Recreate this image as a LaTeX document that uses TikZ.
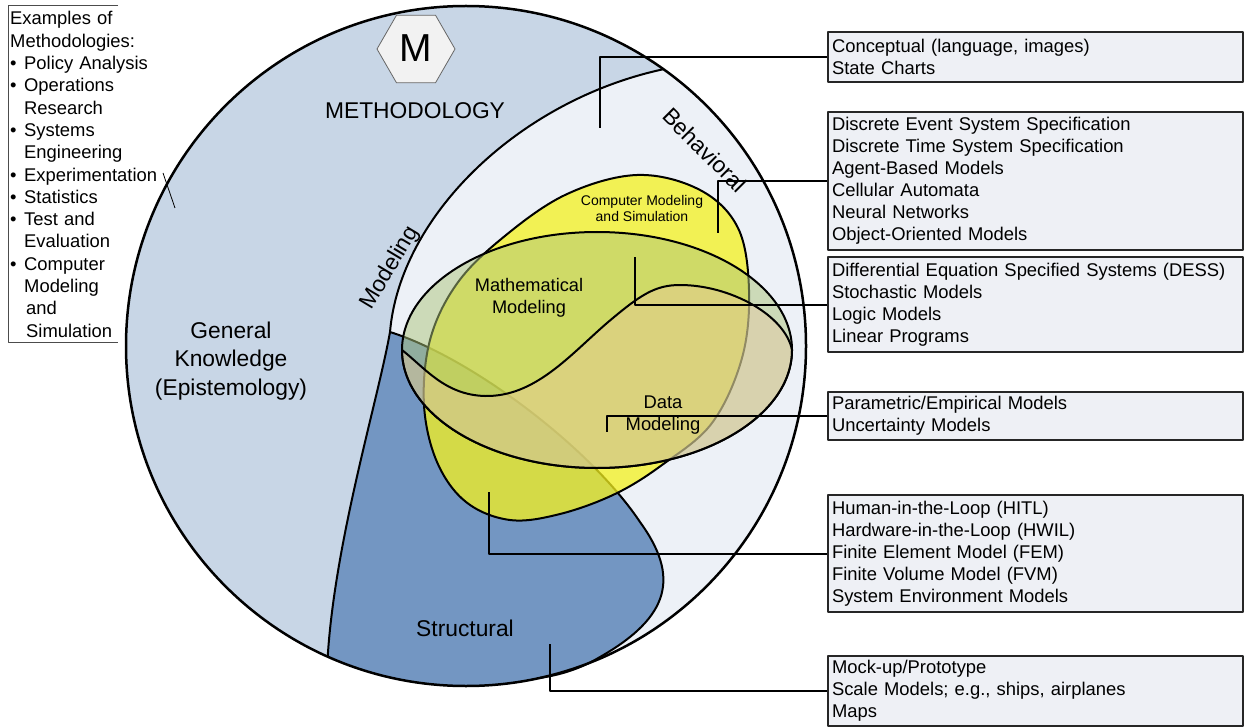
\documentclass[tikz,border=0pt]{standalone}
\usepackage{fontspec}
\setmainfont{Liberation Sans}
\usetikzlibrary{calc}
\definecolor{outerc}{RGB}{200,214,230}
\definecolor{lightc}{RGB}{237,241,247}
\definecolor{structc}{RGB}{115,150,194}
\definecolor{eggc}{RGB}{245,241,30}
\definecolor{ellc}{RGB}{173,197,123}
\definecolor{datac}{RGB}{235,200,160}
\definecolor{boxc}{RGB}{238,240,245}
\definecolor{hexc}{RGB}{242,242,242}
\newcommand{\mybul}{\makebox[14pt][l]{•}}
\newcommand{\myind}{\hspace*{14pt}}
\begin{document}
\begin{tikzpicture}[x=1pt,y=-1pt,line join=round,
  mbox/.style={draw=black!85,line width=2pt,fill=boxc,text width=407pt,inner xsep=4pt,inner ysep=0pt,align=left,anchor=west,font=\fontsize{18.4}{22}\selectfont},
  conn/.style={draw=black,line width=2pt},
  region/.style={draw=black,line width=2pt},
  biglabel/.style={font=\fontsize{22.8}{28.5}\selectfont,align=center,inner sep=0pt}]
\useasboundingbox (0,0) rectangle (1244,727);
\coordinate (O) at (466,346);
\coordinate (A) at ($(O)+(-54.5:340)$);
\coordinate (B) at (390,332);
\coordinate (C) at ($(O)+(114:340)$);
\coordinate (D) at ($(O)+(77.4:340)$);
% outer region
\fill[outerc] (O) circle[radius=340];
% modeling (light) region
\fill[lightc] (B) .. controls (400,215) and (520,100) .. (A)
  arc[start angle=-54.5,end angle=114,radius=340]
  .. controls (335,540) and (378,400) .. (B) -- cycle;
% structural region
\fill[structc] (B) .. controls (470,357) and (590,447) .. (640,522)
  .. controls (680,577) and (670,617) .. (600,657)
  .. controls (580,669) and (560,675) .. (D)
  arc[start angle=77.4,end angle=114,radius=340]
  .. controls (335,540) and (378,400) .. (B) -- cycle;
\draw[region] (C) .. controls (335,540) and (378,400) .. (B) .. controls (400,215) and (520,100) .. (A);
\draw[region] (B) .. controls (470,357) and (590,447) .. (640,522)
  .. controls (680,577) and (670,617) .. (600,657)
  .. controls (580,669) and (560,675) .. (D);
% computer modeling egg
\filldraw[fill=eggc,fill opacity=0.75,draw=black,line width=2pt]
  plot[smooth cycle,tension=0.6] coordinates {(637,175) (700,190) (738,228) (749,290) (742,358) (712,423) (662,465) (615,494) (560,514) (510,520) (466,502) (437,462) (424,405) (430,340) (456,285) (500,240) (565,195)};
% mathematical modeling ellipse
\filldraw[fill=ellc,fill opacity=0.5,draw=black,line width=2pt] (597,350) ellipse[x radius=195,y radius=118];
% data modeling shape
\filldraw[fill=datac,fill opacity=0.4,draw=black,line width=2pt]
  (402,350) .. controls (425,368) and (445,395) .. (485,396)
  .. controls (535,397) and (570,355) .. (607,323)
  .. controls (640,295) and (655,285) .. (680,285)
  .. controls (730,285) and (785,315) .. (792,350)
  arc[start angle=0,end angle=180,x radius=195,y radius=118] -- cycle;
% outer circle outline
\draw[line width=2.5pt] (O) circle[radius=340];
% hexagon
\coordinate (hc) at (416,49);
\filldraw[fill=hexc,draw=black!60,line width=0.8pt] ($(hc)+(-39,0)$) -- ++(19.5,-33.8) -- ++(39,0) -- ++(19.5,33.8) -- ++(-19.5,33.8) -- ++(-39,0) -- cycle;
\node[font=\fontsize{39}{39}\selectfont,inner sep=0pt] (hexm) at (416,48) {M};
% labels
\node[biglabel] (meth) at (415,111) {METHODOLOGY};
\node[biglabel] (gk) at (231,361) {General\\Knowledge\\(Epistemology)};
\node[biglabel] (struct) at (465,628) {Structural};
\node[biglabel,rotate=59] (modl) at (390,268) {Modeling};
\node[biglabel,rotate=-45] (behav) at (705,150) {Behavioral};
\node[font=\fontsize{14}{16}\selectfont,align=center,inner sep=0pt] (cms) at (642,208) {Computer Modeling\\and Simulation};
\node[font=\fontsize{18.2}{22}\selectfont,align=center,inner sep=0pt] (mm) at (529,298) {Mathematical\\Modeling};
\node[font=\fontsize{18.4}{22}\selectfont,align=center,inner sep=0pt] (dm) at (663,415) {Data\\Modeling};
% legend
\node[anchor=north west,inner xsep=2pt,inner ysep=5.4pt,align=left,text width=170pt,font=\fontsize{18.4}{22.3}\selectfont] (legend) at (8,6)
 {Examples of\\Methodologies:\\\mybul Policy Analysis\\\mybul Operations\\\myind Research\\\mybul Systems\\\myind Engineering\\\mybul Experimentation\\\mybul Statistics\\\mybul Test and\\\myind Evaluation\\\mybul Computer\\\myind Modeling\\\myind\hspace*{2pt}and\\\myind\hspace*{2pt}Simulation};
\draw[line width=1pt,draw=black!70] ($(legend.north west)+(110,0)$) -- (legend.north west) -- (legend.south west) -- ++(110,0);
\coordinate (lead1) at (163,173);
\coordinate (lead2) at (175,208);
\draw[line width=0.8pt] (lead1) -- (lead2);
% boxes
\node[mbox,minimum height=50pt] (b1) at (827,57) {Conceptual (language, images)\\State Charts};
\node[mbox,minimum height=138pt] (b2) at (827,181) {Discrete Event System Specification\\Discrete Time System Specification\\Agent-Based Models\\Cellular Automata\\Neural Networks\\Object-Oriented Models};
\node[mbox,minimum height=95pt] (b3) at (827,304.5) {Differential Equation Specified Systems (DESS)\\Stochastic Models\\Logic Models\\Linear Programs};
\node[mbox,minimum height=48pt] (b4) at (827,416) {Parametric/Empirical Models\\Uncertainty Models};
\node[mbox,minimum height=117pt] (b5) at (827,553.5) {Human-in-the-Loop (HITL)\\Hardware-in-the-Loop (HWIL)\\Finite Element Model (FEM)\\Finite Volume Model (FVM)\\System Environment Models};
\node[mbox,minimum height=70pt] (b6) at (827,691) {Mock-up/Prototype\\Scale Models; e.g., ships, airplanes\\Maps};
% connectors
\coordinate (e1) at (600,128);
\coordinate (e2) at (718,233);
\coordinate (e3) at (635,257);
\coordinate (e4) at (607,432);
\coordinate (e5) at (489,492);
\coordinate (e6) at (550,644);
\draw[conn] (b1.west) -| (e1);
\draw[conn] (b2.west) -| (e2);
\draw[conn] (b3.west) -| (e3);
\draw[conn] (b4.west) -| (e4);
\draw[conn] (b5.west) -| (e5);
\draw[conn] (b6.west) -| (e6);
\end{tikzpicture}
\end{document}
